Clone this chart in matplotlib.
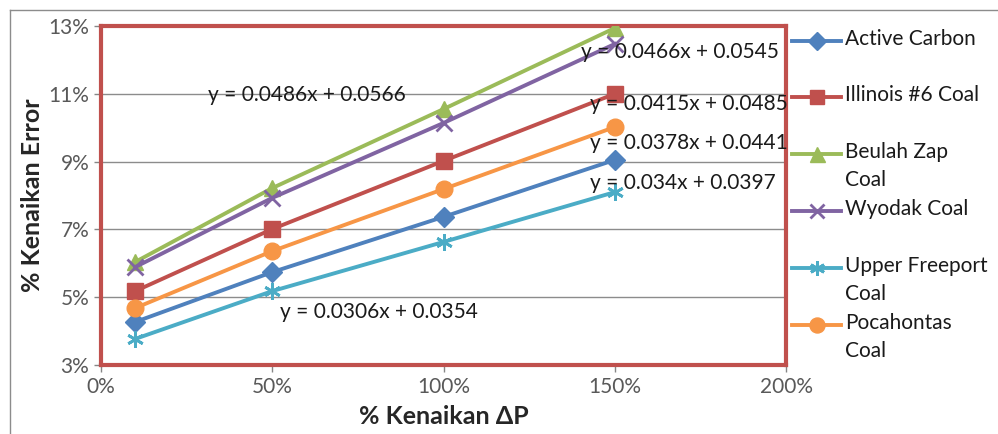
import matplotlib.pyplot as plt
from matplotlib.lines import Line2D
from matplotlib.ticker import PercentFormatter

plt.rcParams['font.family'] = ['Lato', 'DejaVu Sans']

# % kenaikan delta P
x_vals = [0.10, 0.50, 1.00, 1.50]

active_carbon = [0.0427, 0.0574, 0.0737, 0.0905]
illinois = [0.0518, 0.0701, 0.0902, 0.1100]
beulah = [0.0604, 0.0822, 0.1055, 0.1294]
wyodak = [0.0589, 0.0793, 0.1014, 0.1247]
upper_freeport = [0.0377, 0.0518, 0.0663, 0.0810]
pocahontas = [0.0468, 0.0636, 0.0819, 0.1002]

series = [
    ("Active Carbon", active_carbon, '#4F81BD', 'D', 10),
    ("Illinois #6 Coal", illinois, '#C0504D', 's', 11),
    ("Beulah Zap\nCoal", beulah, '#9BBB59', '^', 12),
    ("Wyodak Coal", wyodak, '#8064A2', 'x', 11),
    ("Upper Freeport\nCoal", upper_freeport, '#4BACC6', (6, 2, 0), 12),
    ("Pocahontas\nCoal", pocahontas, '#F79646', 'o', 12),
]

# trendline equations (text, x, y in data units)
equations = [
    ("y = 0.0486x + 0.0566", 0.312, 0.1097),
    ("y = 0.0466x + 0.0545", 1.401, 0.1223),
    ("y = 0.0415x + 0.0485", 1.428, 0.1070),
    ("y = 0.0378x + 0.0441", 1.428, 0.0955),
    ("y = 0.034x + 0.0397", 1.428, 0.0837),
    ("y = 0.0306x + 0.0354", 0.523, 0.0456),
]

fig = plt.figure(figsize=(9.98, 4.34), dpi=100)
ax = fig.add_axes([0.1012, 0.159, 0.6864, 0.781])

for name, vals, color, marker, ms in series:
    mew = 2 if marker in ('x', (6, 2, 0)) else 1
    ax.plot(x_vals, vals, color=color, lw=2.8, marker=marker, ms=ms,
            mew=mew, mec=color, mfc=color, label=name, zorder=3)

for txt, ex, ey in equations:
    ax.text(ex, ey, txt, fontsize=15, color='#1a1a1a', va='center', ha='left', zorder=4)

ax.set_xlim(0, 2.0)
ax.set_ylim(0.03, 0.13)
ax.set_xticks([0, 0.5, 1.0, 1.5, 2.0])
ax.set_yticks([0.03, 0.05, 0.07, 0.09, 0.11, 0.13])
ax.xaxis.set_major_formatter(PercentFormatter(1.0, decimals=0))
ax.yaxis.set_major_formatter(PercentFormatter(1.0, decimals=0))
ax.tick_params(colors='#868686', labelcolor='#595959', labelsize=15, length=5, width=1)
ax.grid(axis='y', color='#8c8c8c', lw=1)
ax.set_axisbelow(True)
for sp in ax.spines.values():
    sp.set_color('#C0504D')
    sp.set_linewidth(3)

ax.set_xlabel('% Kenaikan ΔP', fontsize=18, fontweight='bold', color='#262626', labelpad=6)
ax.set_ylabel('% Kenaikan Error', fontsize=18, fontweight='bold', color='#262626', labelpad=3)

# legend drawn at the right of the plot area
legend_rows = [41, 97, 154, 211, 268, 325]
for (name, vals, color, marker, ms), row in zip(series, legend_rows):
    yf = 1 - row / 434
    mew = 2 if marker in ('x', (6, 2, 0)) else 1
    ms_leg = ms * 0.9
    fig.add_artist(Line2D([792 / 998, 841 / 998], [yf, yf], color=color, lw=2.8))
    fig.add_artist(Line2D([816.5 / 998], [yf], color=color, marker=marker, ms=ms_leg,
                          mew=mew, mec=color, mfc=color, lw=0))
    fig.text(845 / 998, yf + 12 / 434, name, fontsize=15, color='#1a1a1a', va='top',
             ha='left', linespacing=1.5)

# chart area border (left and top edges)
fig.add_artist(Line2D([10 / 998, 10 / 998], [0, 1 - 10 / 434], color='#8c8c8c', lw=1))
fig.add_artist(Line2D([10 / 998, 1], [1 - 10 / 434, 1 - 10 / 434], color='#8c8c8c', lw=1))

fig.savefig('out.png', dpi=100)
